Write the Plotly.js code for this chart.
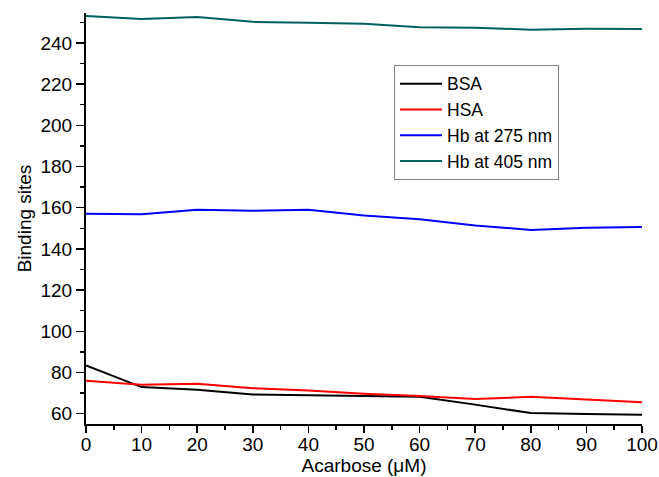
<!DOCTYPE html>
<html><head><meta charset="utf-8">
<script src="https://cdn.plot.ly/plotly-3.0.1.min.js"></script>
<style>body{margin:0;padding:0;background:#fff}#chart{width:659px;height:477px}</style>
</head><body><div id="chart"></div>
<script>
const acarbose = [0,10,20,30,40,50,60,70,80,90,100];
const bsa = [83.4,72.9,71.6,69.3,68.9,68.6,68.2,64.4,60.3,59.8,59.5];
const hsa = [76.0,74.0,74.5,72.4,71.3,69.7,68.6,67.1,68.2,66.9,65.6];
const hb275 = [157.1,156.8,159.0,158.5,159.0,156.2,154.4,151.4,149.2,150.2,150.6];
const hb405 = [253.0,251.6,252.5,250.2,249.8,249.3,247.6,247.4,246.4,246.8,246.7];
const names = ["BSA","HSA","Hb at 275 nm","Hb at 405 nm"];
const colors = ["#000000","#ff0000","#0000ff","#006060"];
const series = [bsa,hsa,hb275,hb405];
const traces = series.map((s,i)=>({x:acarbose,y:s,name:names[i],type:'scatter',mode:'lines',line:{color:colors[i],width:2}}));
const font = {family:'"Liberation Sans", Arial, sans-serif', size:19, color:'#000'};
const legFont = {family:'"Liberation Sans", Arial, sans-serif', size:17.5, color:'#000'};
const layout = {
  width:659,height:477,
  margin:{l:86,r:17,t:13,b:53},
  paper_bgcolor:'#fff',plot_bgcolor:'#fff',
  font:font,
  showlegend:true,
  legend:{x:0.554,y:0.874,xanchor:'left',yanchor:'top',bordercolor:'#808080',borderwidth:1,bgcolor:'#fff',
    font:legFont,tracegroupgap:0,itemwidth:42},
  xaxis:{range:[0,100],dtick:10,tick0:0,ticks:'outside',ticklen:7,tickwidth:1.5,tickcolor:'#000',
    showline:true,linecolor:'#000',linewidth:2,showgrid:false,zeroline:false,ticklabelstandoff:-5,
    minor:{dtick:5,ticks:'outside',ticklen:4,tickwidth:1.5,tickcolor:'#000',showgrid:false},
    title:{text:'Acarbose (μM)',font:font,standoff:0},tickfont:font},
  yaxis:{range:[55,254.5],dtick:20,tick0:0,ticks:'outside',ticklen:8,tickwidth:1.5,tickcolor:'#000',
    showline:true,linecolor:'#000',linewidth:2,showgrid:false,zeroline:false,
    minor:{dtick:10,ticks:'outside',ticklen:4,tickwidth:1.5,tickcolor:'#000',showgrid:false},
    title:{text:'Binding sites',font:font,standoff:4},tickfont:font}
};
Plotly.newPlot('chart',traces,layout,{displayModeBar:false,staticPlot:true});
</script></body></html>
